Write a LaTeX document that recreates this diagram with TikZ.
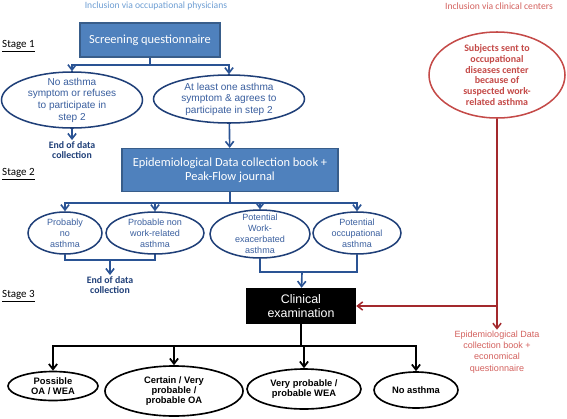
\documentclass[tikz,border=0pt]{standalone}
\usepackage{fontspec}
\setmainfont{Carlito}
\newfontfamily\arialf{Liberation Sans}
\usetikzlibrary{shapes.geometric,arrows.meta}
\definecolor{boxblue}{HTML}{4F81BD}
\definecolor{boxline}{HTML}{385D8A}
\definecolor{lineblue}{HTML}{2A5394}
\definecolor{ovaltext}{HTML}{3A5F9F}
\definecolor{endblue}{HTML}{1F3F78}
\definecolor{incblue}{HTML}{6E9ED3}
\definecolor{redline}{HTML}{A3292D}
\definecolor{redtext}{HTML}{C44A48}
\definecolor{lightred}{HTML}{D3615E}
\begin{document}
\begin{tikzpicture}[x=0.03cm,y=-0.03cm,
    sz/.style 2 args={minimum width=#1*0.03cm,minimum height=#2*0.03cm},
    bluebox/.style={rectangle,draw=boxline,fill=boxblue,line width=1pt,text=white,
      align=center,inner sep=0pt,font=\fontsize{10.6}{12.2}\selectfont},
    blackbox/.style={rectangle,fill=black,text=white,align=center,inner sep=0pt,
      font=\arialf\fontsize{10.6}{12.2}\selectfont},
    oval/.style={ellipse,draw=endblue,line width=1.3pt,fill=white,align=center,
      inner sep=-8pt,text=ovaltext},
    bigf/.style={font=\arialf\fontsize{8.6}{9.9}\selectfont},
    smallf/.style={font=\arialf\fontsize{7.7}{9.3}\selectfont},
    redoval/.style={ellipse,draw=redtext,line width=1.3pt,align=center,inner sep=-10pt,
      text=redtext,font=\bfseries\fontsize{8.5}{9.3}\selectfont},
    result/.style={ellipse,draw=black,line width=1.4pt,align=center,inner sep=-8pt,
      font=\arialf\bfseries\fontsize{8}{8.6}\selectfont},
    endtxt/.style={align=center,inner sep=1pt,text=endblue,
      font=\bfseries\fontsize{8.4}{8.6}\selectfont},
    stage/.style={anchor=west,inner sep=0pt,font=\fontsize{9.4}{11}\selectfont},
    arr/.style={-{Straight Barb[length=4.5pt,width=7pt]}}
  ]
  \useasboundingbox (0,0) rectangle (567,418);

  % headings
  \node[text=incblue,font=\fontsize{8.2}{10}\selectfont] (incA) at (156,6) {Inclusion via occupational physicians};
  \node[text=lightred,font=\fontsize{8.2}{10}\selectfont] (incB) at (499,6) {Inclusion via clinical centers};
  \node[stage] (st1) at (2,46) {\underline{Stage 1}};
  \node[stage] (st2) at (2,174) {\underline{Stage 2}};
  \node[stage] (st3) at (2,296) {\underline{Stage 3}};

  % stage 1
  \node[bluebox,sz={140}{34}] (screen) at (150,40) {Screening questionnaire};
  \node[oval,bigf,sz={141}{56}] (nosym) at (72,100) {No asthma\\symptom or refuses\\to participate in\\step 2};
  \node[oval,bigf,sz={151}{48}] (atleast) at (229,99) {At least one asthma\\symptom \& agrees to\\participate in step 2};
  \node[endtxt] (endA) at (72,150) {End of data\\collection};

  % stage 2
  \node[bluebox,sz={216}{43}] (epi) at (230,170) {Epidemiological Data collection book +\\Peak-Flow journal};
  \node[oval,smallf,sz={74}{42}] (pno) at (65,233) {Probably\\no\\asthma};
  \node[oval,smallf,sz={98}{42}] (pnon) at (155,233) {Probable non\\work-related\\asthma};
  \node[oval,smallf,sz={100}{48}] (pwea) at (260,234) {Potential\\Work-\\exacerbated\\asthma};
  \node[oval,smallf,sz={88}{42}] (pocc) at (357,233) {Potential\\occupational\\asthma};
  \node[endtxt] (endB) at (110,285) {End of data\\collection};

  % stage 3
  \node[blackbox,sz={110}{36}] (clin) at (301,306) {Clinical\\examination};
  \node[result,sz={90}{29}] (possible) at (53,386) {Possible\\OA / WEA};
  \node[result,sz={138}{50}] (certain) at (174,391) {Certain / Very\\probable /\\probable OA};
  \node[result,sz={114}{40}] (verywea) at (304,389) {Very probable /\\probable WEA};
  \node[result,sz={84}{36}] (noasth) at (416,390) {No asthma};

  % clinical centers
  \node[redoval,sz={136}{86}] (subj) at (497,75) {Subjects sent to\\occupational\\diseases center\\because of\\suspected work-\\related asthma};
  \node[align=center,inner sep=1pt,text=lightred,font=\arialf\fontsize{7.7}{9.5}\selectfont] (redbook) at (497,352)
    {Epidemiological Data\\collection book +\\economical\\questionnaire};

  \coordinate (j1) at (150,65);
  \coordinate (j2) at (230,203);
  \coordinate (j3) at (110,260);
  \coordinate (j4) at (302,272);
  \coordinate (j5) at (301,346);
  \coordinate (j6) at (497,306);

  \begin{scope}[draw=lineblue,line width=1.4pt]
    \draw (screen) -- (j1);
    \draw[arr] (j1) -| (nosym.north);
    \draw[arr] (j1) -| (atleast.north);
    \draw[arr] (nosym) -- (endA);
    \draw[arr] (atleast) -- (epi);
    \draw (epi) -- (j2);
    \draw[arr] (j2) -| (pno.north);
    \draw[arr] (j2) -| (pnon.north);
    \draw[arr] (j2) -| (pwea.north);
    \draw[arr] (j2) -| (pocc.north);
    \draw (pno.south) |- (j3) -| (pnon.south);
    \draw[arr] (j3) -- (endB);
    \draw (pwea.south) |- (j4) -| (pocc.south);
    \draw[arr] (j4) -- (clin);
  \end{scope}
  \begin{scope}[draw=black,line width=1.5pt]
    \draw (clin) -- (j5);
    \draw[arr] (j5) -| (possible.north);
    \draw[arr] (j5) -| (certain.north);
    \draw[arr] (j5) -| (verywea.north);
    \draw[arr] (j5) -| (noasth.north);
  \end{scope}
  \begin{scope}[draw=redline,line width=1.3pt]
    \draw (subj) -- (j6);
    \draw[arr] (j6) -- (clin.east);
    \draw[arr] (j6) -- (redbook);
  \end{scope}
\end{tikzpicture}
\end{document}
